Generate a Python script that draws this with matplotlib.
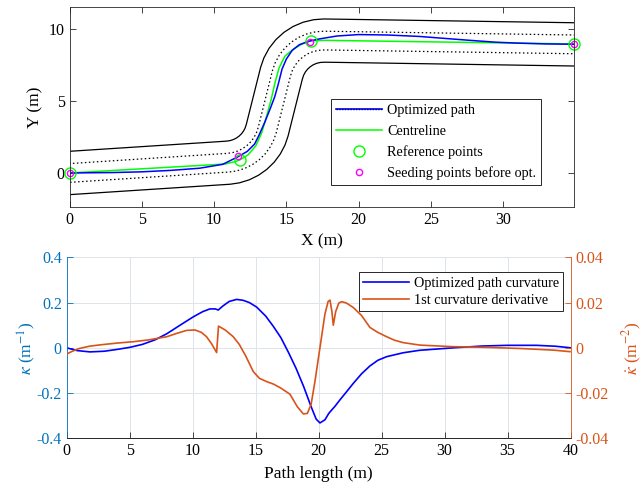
import matplotlib
matplotlib.use("Agg")
import matplotlib.pyplot as plt
import numpy as np
from matplotlib.lines import Line2D

plt.rcParams["font.family"] = ["Liberation Serif", "DejaVu Serif"]
plt.rcParams["mathtext.fontset"] = "stix"

# ---- track (centre of road) ----
track_x = [0, 10.962, 11.429, 11.880, 12.304, 12.689, 13.027, 13.308, 13.527, 13.677,
           14.661, 14.823, 15.062, 15.372, 15.743, 16.166, 16.628, 17.116, 17.617, 34.9]
track_y = [0, 0.712, 0.780, 0.920, 1.130, 1.403, 1.733, 2.112, 2.530, 2.978,
           6.911, 7.386, 7.829, 8.224, 8.562, 8.834, 9.031, 9.148, 9.183, 8.92]
lane_half = 0.65   # dotted lines
road_half = 1.5    # solid lines

# reference centreline (green)
centre_x = [0, 10.73, 11.43, 11.77, 12.35, 12.9, 13.3, 13.65, 13.95, 14.2, 14.5, 14.9,
            15.5, 16.1, 16.69, 17.7, 34.9]
centre_y = [0, 0.62, 0.78, 0.9, 1.25, 1.9, 2.8, 4.0, 5.1, 6.2, 7.3, 8.1,
            8.6, 8.95, 9.17, 9.2, 8.95]

# optimized path (blue)
path_x = [0, 3, 5, 7, 9, 10.6, 11.66, 12.3, 12.8, 13.1, 13.5, 13.9, 14.2, 14.45, 14.7,
          15.0, 15.4, 15.9, 16.6, 17.3, 18.5, 20, 22, 24.2, 26, 27.7, 29.5, 31.2, 33, 34.9]
path_y = [0, 0.03, 0.08, 0.18, 0.33, 0.6, 1.13, 1.5, 2.0, 2.6, 3.5, 4.5, 5.3, 6.2, 7.2,
          7.9, 8.5, 8.9, 9.15, 9.3, 9.5, 9.6, 9.57, 9.47, 9.33, 9.2, 9.07, 9.0, 8.95, 8.93]

ref_x = [0, 11.77, 16.69, 34.9]
ref_y = [0, 0.9, 9.17, 8.93]
seed_x = [0, 11.66, 16.62, 34.9]
seed_y = [0, 1.18, 9.07, 8.93]

# ---- curvature profile ----
s_k = [0, 0.8, 1.85, 3.0, 4.0, 5.0, 6.0, 7.0, 7.94, 9.0, 10.05, 10.8, 11.37, 11.8, 12.03,
       12.4, 12.9, 13.49, 14.0, 14.5, 15.08, 15.8, 16.4, 17.0, 17.6, 18.2, 18.8, 19.4,
       19.8, 20.1, 20.5, 20.8, 21.03, 21.3, 21.69, 22.2, 22.75, 23.4, 24.07, 24.7, 25.4,
       26.7, 28.0, 30.7, 33.0, 35.0, 37.3, 38.8, 40.0]
kappa = [0, -0.012, -0.018, -0.015, -0.007, 0.002, 0.015, 0.035, 0.062, 0.1, 0.137, 0.16,
         0.172, 0.172, 0.167, 0.185, 0.205, 0.214, 0.21, 0.2, 0.18, 0.14, 0.095, 0.045,
         -0.02, -0.09, -0.17, -0.26, -0.315, -0.332, -0.318, -0.29, -0.275, -0.258, -0.23,
         -0.195, -0.157, -0.115, -0.08, -0.055, -0.039, -0.022, -0.011, 0.0, 0.008, 0.011,
         0.011, 0.007, 0.0]

s_d = [0, 0.5, 1.0, 1.8, 2.64, 4.0, 5.29, 6.5, 7.94, 8.8, 9.52, 10.18, 10.7, 11.1, 11.5,
       11.9, 12.05, 12.6, 13.22, 13.7, 14.2, 14.81, 15.3, 15.9, 16.4, 17.0, 17.72, 18.3,
       18.78, 19.1, 19.4, 19.7, 20.1, 20.5, 20.75, 20.9, 21.05, 21.16, 21.35, 21.6, 21.83,
       22.2, 22.75, 23.4, 24.07, 24.7, 25.4, 26.0, 26.7, 28.04, 30.7, 33.3, 36.0, 38.6,
       39.95]
dkappa = [-0.0027, -0.0014, -0.0003, 0.0007, 0.0013, 0.0021, 0.0027, 0.0035, 0.0049,
          0.0065, 0.0077, 0.0079, 0.0068, 0.0049, 0.0018, -0.0021, 0.0096, 0.0078, 0.0049,
          0.0015, -0.0035, -0.0105, -0.0135, -0.015, -0.016, -0.0178, -0.0205, -0.026,
          -0.0292, -0.029, -0.025, -0.015, 0.0, 0.015, 0.0205, 0.0211, 0.016, 0.010, 0.016,
          0.0198, 0.0204, 0.0198, 0.0178, 0.0143, 0.009, 0.0068, 0.0049, 0.0034, 0.0023,
          0.0012, 0.0005, 0.0002, -0.0003, -0.001, -0.0017]

x_ticks = [0, 5, 10, 15, 20, 25, 30]
y_ticks = [0, 5, 10]
s_ticks = [0, 5, 10, 15, 20, 25, 30, 35, 40]
k_ticks = [-0.4, -0.2, 0, 0.2, 0.4]
k_labels = ["-0.4", "-0.2", "0", "0.2", "0.4"]
d_ticks = [-0.04, -0.02, 0, 0.02, 0.04]
d_labels = ["-0.04", "-0.02", "0", "0.02", "0.04"]

BLUE_AX = "#0072BD"
ORANGE = "#D95319"
AXC = "#262626"
TICK_FS = 11.5
LABEL_FS = 12.5
LEG_FS = 10.3


def offset(xs, ys, w):
    p = np.column_stack([xs, ys]).astype(float)
    seg = np.diff(p, axis=0)
    seg /= np.linalg.norm(seg, axis=1)[:, None]
    tang = np.vstack([seg[:1], seg[:-1] + seg[1:], seg[-1:]])
    tang /= np.linalg.norm(tang, axis=1)[:, None]
    nrm = np.column_stack([-tang[:, 1], tang[:, 0]])
    q = p + w * nrm
    return q[:, 0], q[:, 1]


fig = plt.figure(figsize=(6.43, 4.88), dpi=100)

# ---------------- top: path ----------------
ax1 = fig.add_axes([0.1081, 0.5764, 0.7851, 0.4086])
for w in (road_half, -road_half):
    ox, oy = offset(track_x, track_y, w)
    ax1.plot(ox, oy, color="black", lw=0.9)
for w in (lane_half, -lane_half):
    ox, oy = offset(track_x, track_y, w)
    ax1.plot(ox, oy, color="black", lw=0.9, ls=(0, (1.2, 2.0)))
ax1.plot(centre_x, centre_y, color="#00FF00", lw=1.1)
ax1.plot(path_x, path_y, color="blue", lw=1.1)
ax1.plot(ref_x, ref_y, "o", mfc="none", mec="#00FF00", ms=8, mew=1.0, clip_on=False)
ax1.plot(seed_x, seed_y, "o", mfc="none", mec="magenta", ms=4.5, mew=1.0, clip_on=False)

ax1.set_xlim(0, 34.92)
ax1.set_ylim(-2.34, 11.49)
ax1.set_xticks(x_ticks)
ax1.set_yticks(y_ticks)
ax1.tick_params(direction="in", top=True, right=True, length=4, width=0.6,
                labelsize=TICK_FS, colors=AXC, labelcolor="black")
for sp in ax1.spines.values():
    sp.set_color(AXC)
    sp.set_linewidth(0.6)
ax1.set_xlabel("X (m)", fontsize=LABEL_FS, labelpad=4)
ax1.set_ylabel("Y (m)", fontsize=LABEL_FS, labelpad=4)

h_path = (Line2D([], [], color="blue", lw=1.2),
          Line2D([], [], color="#000080", lw=1.0, ls=(0, (1, 1))))
h_centre = Line2D([], [], color="#00FF00", lw=1.1)
h_ref = Line2D([], [], ls="none", marker="o", mfc="none", mec="#00FF00", ms=8)
h_seed = Line2D([], [], ls="none", marker="o", mfc="none", mec="magenta", ms=4.5)
leg1 = ax1.legend([h_path, h_centre, h_ref, h_seed],
                  ["Optimized path", "Centreline", "Reference points",
                   "Seeding points before opt."],
                  loc="lower right", bbox_to_anchor=(0.934, 0.109), fontsize=LEG_FS,
                  frameon=True, fancybox=False, framealpha=1, edgecolor=AXC,
                  handlelength=3.2, handletextpad=0.35, labelspacing=0.52,
                  borderpad=0.35, borderaxespad=0)
leg1.get_frame().set_linewidth(0.7)

# ---------------- bottom: curvature ----------------
ax2 = fig.add_axes([0.1037, 0.1018, 0.7838, 0.3709])
ax3 = ax2.twinx()
l1, = ax2.plot(s_k, kappa, color="blue", lw=1.2)
l2, = ax3.plot(s_d, dkappa, color=ORANGE, lw=1.2)

ax2.set_xlim(0, 40)
ax2.set_ylim(-0.4, 0.4)
ax3.set_ylim(-0.04, 0.04)
ax2.set_xticks(s_ticks)
ax2.set_yticks(k_ticks)
ax2.set_yticklabels(k_labels)
ax3.set_yticks(d_ticks)
ax3.set_yticklabels(d_labels)
ax2.grid(True, color="#dfe4ea", lw=0.7)
ax2.set_axisbelow(True)

for ax in (ax2, ax3):
    ax.spines["top"].set_visible(False)
    ax.spines["bottom"].set_color(AXC)
    ax.spines["bottom"].set_linewidth(0.6)
ax2.spines["left"].set_color(BLUE_AX)
ax2.spines["right"].set_visible(False)
ax3.spines["left"].set_visible(False)
ax3.spines["right"].set_color(ORANGE)
for sp in ("left", "right"):
    ax2.spines[sp].set_linewidth(0.6)
    ax3.spines[sp].set_linewidth(0.6)

ax2.tick_params(axis="x", direction="in", length=4, width=0.6, labelsize=TICK_FS,
                colors=AXC, labelcolor="black")
ax2.tick_params(axis="y", direction="in", length=4, width=0.6, labelsize=TICK_FS,
                colors=BLUE_AX)
ax3.tick_params(axis="y", direction="in", length=4, width=0.6, labelsize=TICK_FS,
                colors=ORANGE)

ax2.set_xlabel("Path length (m)", fontsize=LABEL_FS, labelpad=5)
ax2.set_ylabel(r"$\kappa$ (m$^{-1}$)", fontsize=LABEL_FS, color=BLUE_AX, labelpad=-1)
ax3.set_ylabel(r"$\dot{\kappa}$ (m$^{-2}$)", fontsize=LABEL_FS, color=ORANGE,
               rotation=90, labelpad=9)

leg2 = ax3.legend([l1, l2], ["Optimized path curvature", "1st curvature derivative"],
                  loc="upper right", bbox_to_anchor=(0.985, 0.917), fontsize=LEG_FS,
                  frameon=True, fancybox=False, framealpha=1, edgecolor=AXC,
                  handlelength=3.2, handletextpad=0.35, labelspacing=0.3,
                  borderpad=0.3, borderaxespad=0)
leg2.get_frame().set_linewidth(0.7)

fig.savefig("out.png", dpi=100)
